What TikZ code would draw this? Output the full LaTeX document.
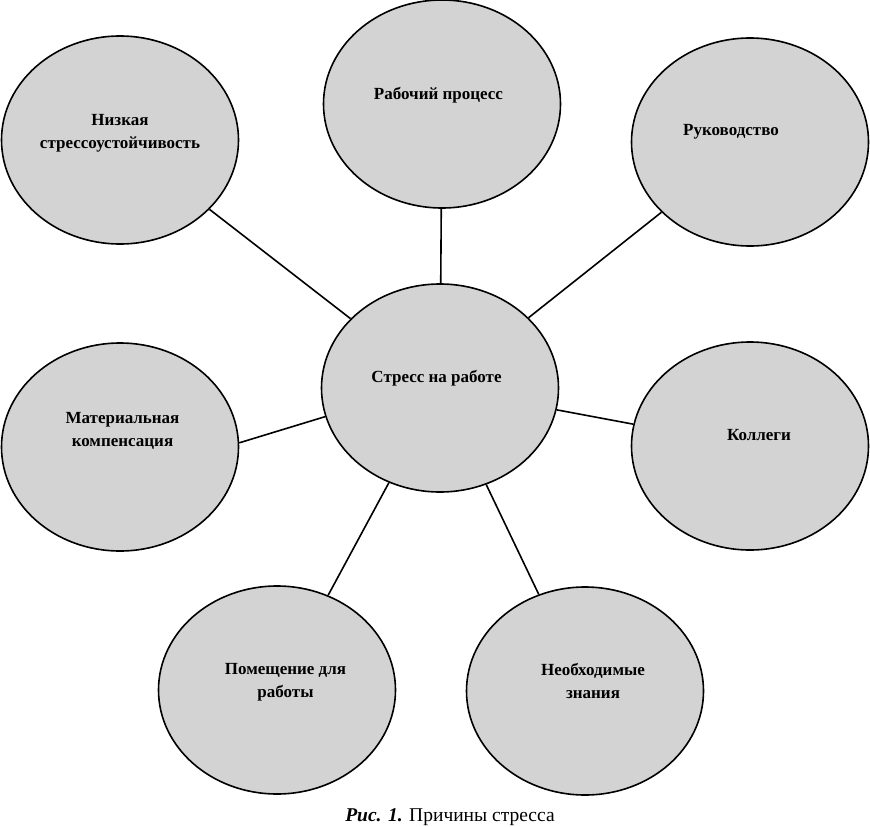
\documentclass[tikz,border=0pt]{standalone}
\usepackage{fontspec}
\setmainfont{Liberation Serif}
\usetikzlibrary{shapes.geometric}

\definecolor{ovalgray}{RGB}{211,211,211}

\tikzset{
  oval/.style={ellipse, draw=black, line width=1.6pt, fill=ovalgray,
    minimum width=237pt, minimum height=208pt, inner sep=0pt},
  every label/.style={font=\bfseries\fontsize{17}{23}\selectfont,
    align=center, inner sep=0pt},
  link/.style={line width=1.6pt}
}

\begin{document}
\begin{tikzpicture}[x=1pt, y=-1pt]
      \useasboundingbox (0,0) rectangle (870,827);

      \node[oval, label={[xshift=-3.5pt, yshift=10pt]center:Стресс на работе}] (stress) at (440, 388) {};

      \begin{scope}[name prefix = cause-]
         \node[oval, label={[yshift=6.5pt]center:Низкая\\стрессоустойчивость}] (1) at (120, 140) {};
         \node[oval, label={[xshift=-3.5pt, yshift=9pt]center:Рабочий процесс}] (2) at (442, 104) {};
         \node[oval, label={[xshift=-19pt, yshift=10pt]center:Руководство}] (3) at (750, 142) {};
         \node[oval, label={[xshift=2.5pt, yshift=16pt]center:Материальная\\компенсация}] (4) at (120, 447) {};
         \node[oval, label={[xshift=9pt, yshift=11pt]center:Коллеги}] (5) at (750, 446) {};
         \node[oval, label={[xshift=8.5pt, yshift=7.5pt]center:Помещение для\\работы}] (6) at (277, 690) {};
         \node[oval, label={[xshift=8pt, yshift=10.5pt]center:Необходимые\\знания}] (7) at (585, 691) {};
      \end{scope}

      \begin{scope}
         \draw[link] (cause-1) -- (stress);
         \draw[link] (cause-2) -- (stress);
         \draw[link] (cause-3) -- (stress);
         \draw[link] (cause-4.2) -- (stress.194);
         \draw[link] (cause-5) -- (stress);
         \draw[link] (cause-6) -- (stress);
         \draw[link] (cause-7) -- (stress);
      \end{scope}

      \node[font=\fontsize{19.5}{23}\selectfont] (caption) at (450, 817) {\textbf{\textit{Рис. 1.}} Причины стресса};
\end{tikzpicture}
\end{document}
